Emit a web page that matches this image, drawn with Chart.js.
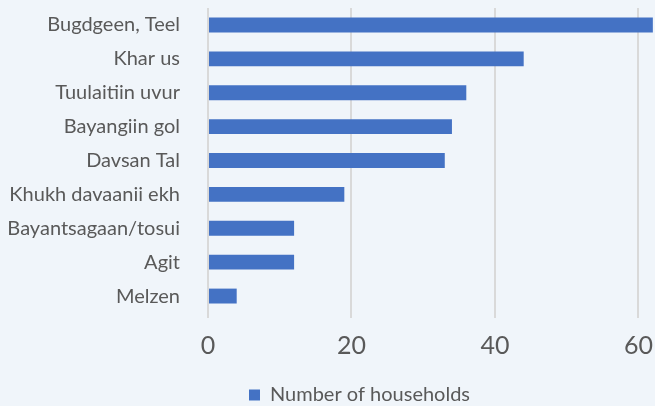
<!DOCTYPE html>
<html>
<head>
<meta charset="utf-8">
<script src="https://cdn.jsdelivr.net/npm/chart.js@4.4.1/dist/chart.umd.min.js"></script>
<style>
  html, body { margin: 0; padding: 0; background: #f0f5fa; overflow: hidden; }
  .wrap { position: relative; width: 655px; height: 415px; }
</style>
</head>
<body>
<div class="wrap"><canvas id="myBarChart"></canvas></div>
<script>
const places = ['Bugdgeen, Teel', 'Khar us', 'Tuulaitiin uvur', 'Bayangiin gol', 'Davsan Tal',
  'Khukh davaanii ekh', 'Bayantsagaan/tosui', 'Agit', 'Melzen']
const households = [62, 44, 36, 34, 33, 19, 12, 12, 4]
const xTicks = [0, 20, 40, 60]
const seriesName = 'Number of households'

// shift the legend a bit right, like the original
const legendShift = {
  id: 'legendShift',
  afterLayout(chart) {
    chart.legend.left += 32
    chart.legend.right += 32
  }
}

function noPad(scale) {
  scale.paddingTop = 0
  scale.paddingBottom = 0
  scale.paddingLeft = 0
  scale.paddingRight = 0
}

const ctx = document.getElementById('myBarChart').getContext('2d')
new Chart(ctx, {
  type: 'bar',
  data: {
    labels: places,
    datasets: [{
      label: seriesName,
      data: households,
      backgroundColor: '#4472c4',
      borderWidth: 0,
      barPercentage: 0.44,
      categoryPercentage: 1
    }]
  },
  plugins: [legendShift],
  options: {
    indexAxis: 'y',
    responsive: true,
    maintainAspectRatio: false,
    animation: false,
    layout: { padding: { top: 8, right: 0, left: 0, bottom: 0 } },
    plugins: {
      tooltip: { enabled: false },
      legend: {
        position: 'bottom',
        labels: {
          boxWidth: 11,
          boxHeight: 11,
          padding: 6,
          color: '#595959',
          font: { family: 'Lato', size: 20 }
        }
      }
    },
    scales: {
      x: {
        min: 0,
        max: 62.3,
        afterBuildTicks: (scale) => { scale.ticks = xTicks.map(v => ({ value: v })) },
        afterFit: (scale) => { scale.height = 66; noPad(scale) },
        grid: { color: '#d9d9d9', lineWidth: 2, tickLength: 5, drawTicks: true },
        border: { display: false },
        ticks: { color: '#595959', padding: 13, font: { family: 'Lato', size: 25 } }
      },
      y: {
        afterFit: (scale) => { scale.width = 208; noPad(scale) },
        grid: { display: false },
        border: { display: false },
        ticks: { color: '#595959', padding: 20, font: { family: 'Lato', size: 20 } }
      }
    }
  }
})
</script>
</body>
</html>
